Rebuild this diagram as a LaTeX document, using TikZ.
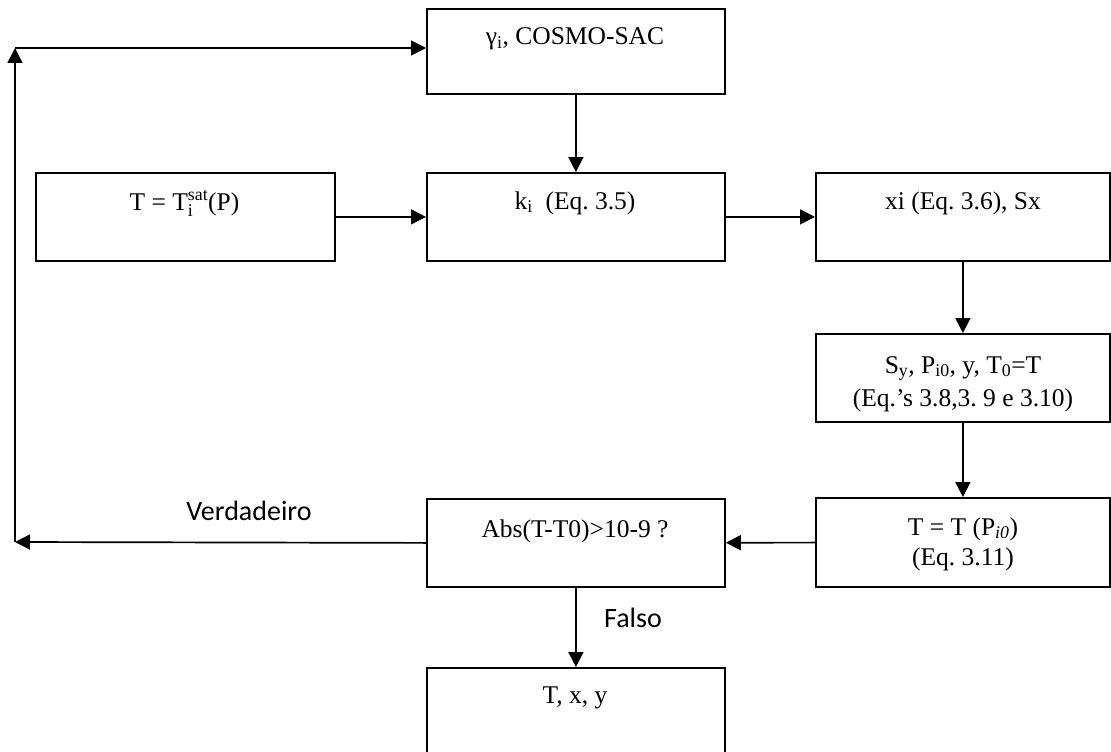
\documentclass[tikz,border=0pt]{standalone}
\usepackage{fontspec}
\setmainfont{Liberation Serif}
\newfontfamily\lblfont{Carlito}
\usetikzlibrary{arrows.meta}
\frenchspacing
\begin{document}
\begin{tikzpicture}[x=1pt,y=-1pt,
  box/.style={draw, line width=1.8pt, anchor=north west, inner sep=0pt, minimum width=298pt},
  txt/.style={font=\frenchspacing\fontsize{25.5}{30}\selectfont, inner sep=0pt, anchor=base},
  lbl/.style={font=\lblfont\fontsize{28}{32}\selectfont, inner sep=0pt},
  arr/.style={line width=1.7pt, -{Triangle[length=15pt,width=15pt]}}]
\useasboundingbox (0,0) rectangle (1111,752);
\clip (0,0) rectangle (1111,752);
% boxes
\node[box, minimum height=85pt] (gamma) at (426,8) {};
\node[box, minimum height=88pt, minimum width=299pt] (tsat) at (35,172) {};
\node[box, minimum height=88pt] (ki) at (426,172) {};
\node[box, minimum height=88pt, minimum width=294pt] (xi) at (815,172) {};
\node[box, minimum height=88pt, minimum width=294pt] (sy) at (815,333) {};
\node[box, minimum height=89pt, minimum width=294pt] (tp) at (815,497) {};
\node[box, minimum height=88pt] (abs) at (426,498) {};
\node[box, minimum height=100pt] (txy) at (426,667) {};
% texts
\node[txt] (gammat) at (575,45) {γ\textsubscript{i}, COSMO-SAC};
\node[txt] (tsatt) at (184.5,210) {T = T\rlap{\raisebox{-0.25ex}{\textsubscript{i}}}\textsuperscript{sat}(P)};
\node[txt] (kit) at (575,209) {k\textsubscript{i}\ \ (Eq. 3.5)};
\node[txt] (xit) at (963,209) {xi (Eq. 3.6), Sx};
\node[txt] (syt1) at (963,373) {S\textsubscript{y}, P\textsubscript{i0}, y, T\textsubscript{0}=T};
\node[txt] (syt2) at (963,406) {(Eq.’s 3.8,3. 9 e 3.10)};
\node[txt] (tpt1) at (963,535) {T = T (P\textsubscript{\textit{i0}})};
\node[txt] (tpt2) at (963,565) {(Eq. 3.11)};
\node[txt] (abst) at (575,537) {Abs(T-T0)>10-9 ?};
\node[txt] (txyt) at (575,703) {T, x, y};
% connectors
\coordinate (c1) at (15,542);
\coordinate (c2) at (15,48);
\draw[arr] (gamma) -- (ki);
\draw[arr] (tsat) -- (ki);
\draw[arr] (ki) -- (xi);
\draw[arr] (xi) -- (sy);
\draw[arr] (sy) -- (tp);
\draw[arr] (tp) -- (abs);
\draw[arr] (abs.west) -- (c1);
\draw[arr] (c1) -- (c2);
\draw[arr] (c2) -- (c2 -| gamma.west);
\draw[arr] (abs) -- (txy);
% labels
\node[lbl, anchor=base] (ver) at (249,520) {Verdadeiro};
\node[lbl, anchor=base west] (fal) at (604,627) {Falso};
\end{tikzpicture}
\end{document}
